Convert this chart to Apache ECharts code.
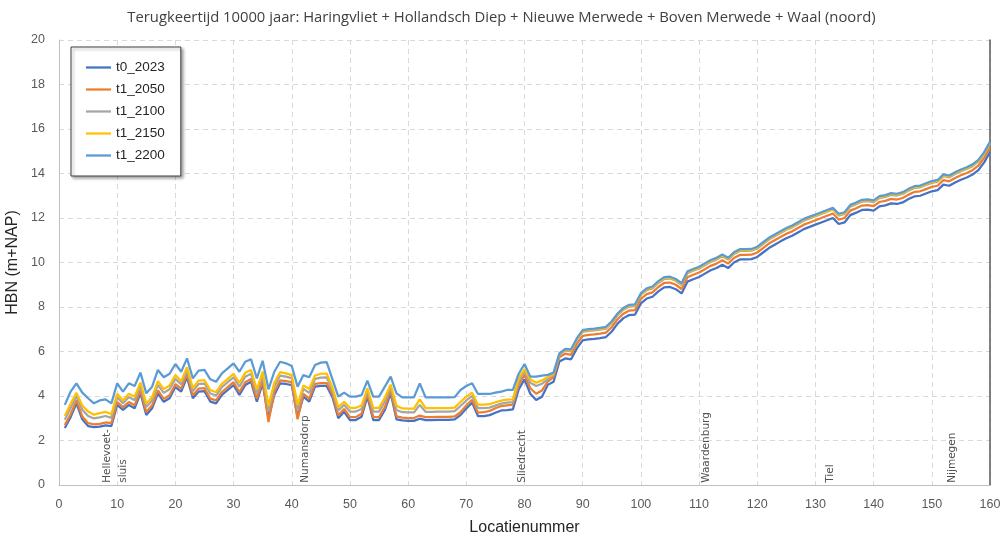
<!DOCTYPE html>
<html>
<head>
<meta charset="utf-8">
<script src="https://cdn.jsdelivr.net/npm/echarts@6/dist/echarts.min.js"></script>
<style>
  html, body { margin: 0; padding: 0; background: #ffffff; }
  #chart { width: 1003px; height: 538px; }
</style>
</head>
<body>
<div id="chart"></div>
<script>
// Location numbers along the river (x axis)
const locaties = Array.from({ length: 160 }, (_, i) => i + 1);

// HBN (m+NAP) per location, one array per scenario
const t0_2023 = [
  2.56, 3.05, 3.67, 2.95, 2.65, 2.6, 2.62, 2.68, 2.65, 3.6,
  3.37, 3.6, 3.45, 4.12, 3.15, 3.45, 4.12, 3.74, 3.9, 4.4,
  4.2, 4.85, 3.9, 4.2, 4.22, 3.75, 3.67, 4.05, 4.27, 4.49,
  4.05, 4.49, 4.64, 3.75, 4.57, 3.0, 4.05, 4.57, 4.54, 4.49,
  3.05, 3.97, 3.75, 4.42, 4.45, 4.45, 3.95, 3.0, 3.29, 2.92,
  2.92, 3.07, 3.97, 2.92, 2.92, 3.37, 4.12, 2.95, 2.9, 2.88,
  2.88, 2.98, 2.92, 2.92, 2.93, 2.93, 2.93, 2.95, 3.14, 3.44,
  3.7, 3.1, 3.1, 3.14, 3.25, 3.35, 3.37, 3.4, 4.3, 4.75,
  4.1, 3.82, 3.97, 4.5, 4.64, 5.55, 5.69, 5.65, 6.14, 6.5,
  6.55, 6.57, 6.6, 6.65, 6.9, 7.25, 7.5, 7.64, 7.66, 8.16,
  8.38, 8.46, 8.7, 8.88, 8.9, 8.8, 8.61, 9.14, 9.25, 9.35,
  9.5, 9.65, 9.75, 9.9, 9.75, 10.0, 10.14, 10.14, 10.15, 10.25,
  10.45, 10.65, 10.8, 10.95, 11.09, 11.2, 11.35, 11.5, 11.6, 11.7,
  11.8, 11.9, 12.0, 11.73, 11.8, 12.13, 12.24, 12.36, 12.38, 12.33,
  12.52, 12.57, 12.66, 12.63, 12.7, 12.85, 12.97, 13.0, 13.1, 13.2,
  13.25, 13.5, 13.45, 13.6, 13.72, 13.82, 13.95, 14.15, 14.5, 14.97
];
const t1_2050 = [
  2.69, 3.18, 3.80, 3.08, 2.78, 2.73, 2.75, 2.81, 2.78, 3.73,
  3.50, 3.73, 3.58, 4.25, 3.28, 3.58, 4.25, 3.87, 4.03, 4.53,
  4.33, 4.98, 4.03, 4.33, 4.35, 3.88, 3.80, 4.18, 4.40, 4.62,
  4.18, 4.62, 4.77, 3.88, 4.70, 2.83, 4.18, 4.70, 4.67, 4.62,
  2.95, 4.10, 3.88, 4.55, 4.58, 4.58, 4.08, 3.13, 3.42, 3.05,
  3.05, 3.20, 4.10, 3.05, 3.05, 3.50, 4.25, 3.08, 3.03, 3.01,
  3.01, 3.12, 3.05, 3.05, 3.06, 3.06, 3.06, 3.08, 3.27, 3.57,
  3.83, 3.25, 3.27, 3.33, 3.45, 3.55, 3.58, 3.61, 4.50, 4.95,
  4.35, 4.10, 4.25, 4.65, 4.85, 5.75, 5.90, 5.85, 6.34, 6.70,
  6.75, 6.77, 6.80, 6.85, 7.10, 7.45, 7.70, 7.84, 7.86, 8.36,
  8.58, 8.66, 8.90, 9.08, 9.10, 9.00, 8.81, 9.34, 9.45, 9.55,
  9.70, 9.85, 9.95, 10.10, 9.95, 10.20, 10.34, 10.34, 10.35, 10.45,
  10.65, 10.85, 11.00, 11.15, 11.29, 11.40, 11.55, 11.70, 11.80, 11.90,
  12.00, 12.10, 12.20, 11.93, 12.00, 12.33, 12.44, 12.56, 12.58, 12.53,
  12.72, 12.77, 12.86, 12.83, 12.90, 13.05, 13.17, 13.20, 13.30, 13.40,
  13.45, 13.70, 13.65, 13.80, 13.92, 14.02, 14.15, 14.35, 14.70, 15.17
];
const t1_2100 = [
  2.93, 3.46, 3.99, 3.38, 3.10, 2.99, 3.04, 3.10, 3.02, 3.95,
  3.67, 3.95, 3.81, 4.45, 3.50, 3.80, 4.50, 4.14, 4.30, 4.77,
  4.52, 5.15, 4.22, 4.54, 4.56, 4.11, 4.02, 4.40, 4.62, 4.84,
  4.42, 4.87, 5.00, 4.12, 4.93, 3.30, 4.42, 4.92, 4.87, 4.80,
  3.40, 4.32, 4.14, 4.77, 4.83, 4.84, 4.24, 3.35, 3.60, 3.30,
  3.30, 3.42, 4.23, 3.30, 3.30, 3.75, 4.39, 3.37, 3.27, 3.26,
  3.26, 3.60, 3.29, 3.29, 3.30, 3.30, 3.30, 3.32, 3.55, 3.80,
  4.01, 3.46, 3.46, 3.48, 3.57, 3.66, 3.70, 3.72, 4.65, 5.10,
  4.60, 4.45, 4.55, 4.75, 4.95, 5.85, 6.05, 6.00, 6.52, 6.88,
  6.93, 6.95, 6.98, 7.03, 7.28, 7.63, 7.88, 8.02, 8.04, 8.54,
  8.76, 8.84, 9.08, 9.26, 9.28, 9.18, 8.99, 9.52, 9.63, 9.73,
  9.88, 10.03, 10.13, 10.28, 10.13, 10.38, 10.52, 10.52, 10.53, 10.63,
  10.83, 11.03, 11.18, 11.33, 11.47, 11.58, 11.73, 11.88, 11.98, 12.08,
  12.18, 12.28, 12.38, 12.11, 12.18, 12.51, 12.62, 12.74, 12.76, 12.71,
  12.90, 12.95, 13.04, 13.01, 13.08, 13.23, 13.35, 13.38, 13.48, 13.58,
  13.63, 13.88, 13.83, 13.98, 14.10, 14.20, 14.33, 14.53, 14.88, 15.35
];
const t1_2150 = [
  3.10, 3.65, 4.14, 3.57, 3.30, 3.16, 3.23, 3.29, 3.18, 4.10,
  3.80, 4.10, 3.97, 4.60, 3.65, 3.95, 4.67, 4.31, 4.47, 4.94,
  4.66, 5.29, 4.36, 4.69, 4.71, 4.27, 4.17, 4.55, 4.77, 5.00,
  4.59, 5.04, 5.17, 4.29, 5.10, 3.55, 4.59, 5.07, 5.02, 4.94,
  3.60, 4.47, 4.32, 4.92, 5.00, 5.01, 4.37, 3.50, 3.74, 3.47,
  3.47, 3.57, 4.34, 3.47, 3.47, 3.92, 4.51, 3.56, 3.44, 3.43,
  3.43, 3.85, 3.45, 3.45, 3.46, 3.46, 3.46, 3.48, 3.73, 3.97,
  4.15, 3.61, 3.61, 3.63, 3.72, 3.79, 3.84, 3.85, 4.80, 5.20,
  4.75, 4.60, 4.70, 4.85, 5.00, 5.90, 6.10, 6.05, 6.56, 6.92,
  6.97, 6.99, 7.02, 7.07, 7.32, 7.67, 7.92, 8.06, 8.08, 8.58,
  8.80, 8.88, 9.12, 9.30, 9.32, 9.22, 9.03, 9.56, 9.67, 9.77,
  9.92, 10.07, 10.17, 10.32, 10.17, 10.42, 10.56, 10.56, 10.57, 10.67,
  10.87, 11.07, 11.22, 11.37, 11.51, 11.62, 11.77, 11.92, 12.02, 12.12,
  12.22, 12.32, 12.42, 12.15, 12.22, 12.55, 12.66, 12.78, 12.80, 12.75,
  12.94, 12.99, 13.08, 13.05, 13.12, 13.27, 13.39, 13.42, 13.52, 13.62,
  13.67, 13.92, 13.87, 14.02, 14.14, 14.24, 14.37, 14.57, 14.92, 15.39
];
const t1_2200 = [
  3.60, 4.20, 4.57, 4.15, 3.90, 3.67, 3.80, 3.85, 3.67, 4.57,
  4.20, 4.57, 4.45, 5.05, 4.12, 4.42, 5.17, 4.84, 5.00, 5.44,
  5.09, 5.69, 4.79, 5.14, 5.17, 4.75, 4.64, 5.02, 5.24, 5.47,
  5.09, 5.54, 5.65, 4.79, 5.58, 4.30, 5.09, 5.54, 5.47, 5.35,
  4.42, 4.94, 4.84, 5.39, 5.50, 5.52, 4.75, 3.97, 4.15, 3.97,
  3.97, 4.04, 4.69, 3.97, 3.97, 4.42, 4.87, 4.12, 3.94, 3.94,
  3.94, 4.57, 3.94, 3.94, 3.94, 3.94, 3.94, 3.95, 4.27, 4.45,
  4.57, 4.09, 4.09, 4.09, 4.15, 4.20, 4.27, 4.27, 5.00, 5.44,
  4.87, 4.87, 4.92, 4.95, 5.05, 5.92, 6.12, 6.10, 6.60, 6.96,
  7.01, 7.03, 7.06, 7.11, 7.36, 7.71, 7.96, 8.10, 8.12, 8.62,
  8.84, 8.92, 9.16, 9.34, 9.36, 9.26, 9.07, 9.60, 9.71, 9.81,
  9.96, 10.11, 10.21, 10.36, 10.21, 10.46, 10.60, 10.60, 10.61, 10.71,
  10.91, 11.11, 11.26, 11.41, 11.55, 11.66, 11.81, 11.96, 12.06, 12.16,
  12.26, 12.36, 12.46, 12.19, 12.26, 12.59, 12.70, 12.82, 12.84, 12.79,
  12.98, 13.03, 13.12, 13.09, 13.16, 13.31, 13.43, 13.46, 13.56, 13.66,
  13.71, 13.96, 13.91, 14.06, 14.18, 14.28, 14.41, 14.61, 14.96, 15.43
];

// Place names written along the bottom of the plot, with their location number
const plaatsNamen = ['Hellevoet-\nsluis', 'Numansdorp', 'Sliedrecht', 'Waardenburg', 'Tiel', 'Nijmegen'];
const plaatsLocaties = [9.6, 42.4, 79.6, 111.2, 132.5, 153.6];

const seriesNamen = ['t0_2023', 't1_2050', 't1_2100', 't1_2150', 't1_2200'];
const seriesWaarden = [t0_2023, t1_2050, t1_2100, t1_2150, t1_2200];
const seriesKleuren = ['#4472C4', '#ED7D31', '#A5A5A5', '#FFC000', '#5B9BD5'];

const FONT = 'Liberation Sans';

const lijnSeries = seriesNamen.map((naam, i) => ({
  name: naam,
  type: 'line',
  data: locaties.map((loc, j) => [loc, seriesWaarden[i][j]]),
  symbol: 'none',
  lineStyle: { color: seriesKleuren[i], width: 2.25 },
  itemStyle: { color: seriesKleuren[i] },
  z: 3 + i
}));

const plaatsSerie = {
  name: 'plaatsen',
  type: 'scatter',
  symbolSize: 0,
  silent: true,
  data: plaatsLocaties.map((loc, i) => ({ value: [loc, 0.1], naam: plaatsNamen[i] })),
  label: {
    show: true,
    position: 'inside',
    rotate: 90,
    align: 'left',
    verticalAlign: 'middle',
    formatter: p => p.data.naam,
    fontFamily: 'DejaVu Sans',
    fontSize: 10.5,
    lineHeight: 16,
    color: '#262626'
  },
  z: 10
};

const chart = echarts.init(document.getElementById('chart'), null, { renderer: 'canvas' });
chart.setOption({
  animation: false,
  backgroundColor: '#ffffff',
  title: {
    text: 'Terugkeertijd 10000 jaar: Haringvliet + Hollandsch Diep + Nieuwe Merwede + Boven Merwede + Waal (noord)',
    left: 'center',
    top: 5,
    textStyle: { fontFamily: 'Open Sans', fontSize: 14.8, fontWeight: 'normal', color: '#404040' }
  },
  legend: {
    data: seriesNamen.map(n => ({ name: n, icon: 'rect' })),
    orient: 'vertical',
    left: 71,
    top: 47,
    padding: [13, 16, 13, 15],
    itemGap: 7,
    itemWidth: 25,
    itemHeight: 2.25,
    backgroundColor: '#ffffff',
    borderColor: '#404040',
    borderWidth: 1,
    shadowColor: 'rgba(0,0,0,0.35)',
    shadowBlur: 3,
    shadowOffsetX: 2,
    shadowOffsetY: 2,
    textStyle: { fontFamily: FONT, fontSize: 13.5, color: '#262626', lineHeight: 15 }
  },
  grid: { left: 59, right: 13, top: 40, bottom: 53, outerBoundsMode: 'none', containLabel: false },
  xAxis: {
    type: 'value',
    min: 0,
    max: 160,
    interval: 10,
    name: 'Locatienummer',
    nameLocation: 'middle',
    nameGap: 35,
    nameTextStyle: { fontFamily: FONT, fontSize: 16, color: '#262626' },
    axisLine: { lineStyle: { color: '#BFBFBF', width: 1 } },
    axisTick: { show: false },
    axisLabel: { fontFamily: FONT, fontSize: 12.5, color: '#595959', margin: 13 },
    splitLine: { show: true, lineStyle: { color: '#D9D9D9', type: [5, 4], width: 1 } }
  },
  yAxis: [{
    type: 'value',
    min: 0,
    max: 20,
    interval: 2,
    name: 'HBN (m+NAP)',
    nameLocation: 'middle',
    nameGap: 22,
    nameTextStyle: { fontFamily: FONT, fontSize: 16, color: '#262626' },
    axisLine: { show: true, lineStyle: { color: '#BFBFBF', width: 1 } },
    axisTick: { show: false },
    axisLabel: { fontFamily: FONT, fontSize: 12.5, color: '#595959', margin: 14 },
    splitLine: { show: true, lineStyle: { color: '#D9D9D9', type: [5, 4], width: 1 } }
  }, {
    type: 'value',
    min: 0,
    max: 20,
    interval: 2,
    position: 'right',
    axisLine: { show: true, lineStyle: { color: '#595959', width: 1.5 } },
    axisTick: { show: false },
    axisLabel: { show: false },
    splitLine: { show: false }
  }],
  series: [...lijnSeries, plaatsSerie]
});
</script>
</body>
</html>
